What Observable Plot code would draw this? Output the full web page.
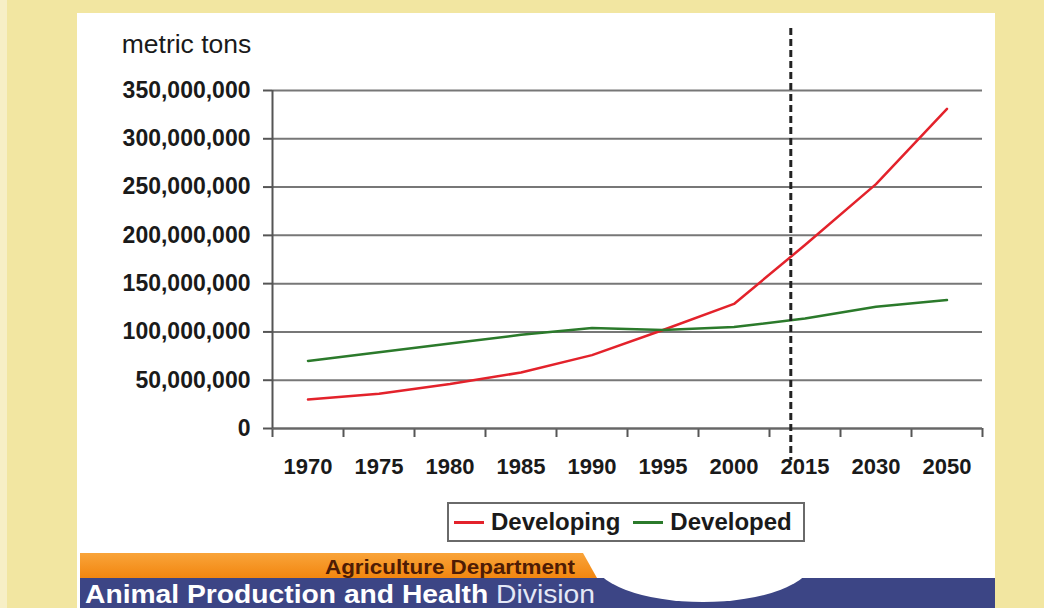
<!DOCTYPE html>
<html>
<head>
<meta charset="utf-8">
<script src="https://cdn.jsdelivr.net/npm/d3@7"></script>
<script src="https://cdn.jsdelivr.net/npm/@observablehq/plot@0.6"></script>
<style>
  html, body { margin: 0; padding: 0; }
  body { width: 1044px; height: 608px; overflow: hidden; background: #f2e6a1; position: relative;
         font-family: "Liberation Sans", Arial, sans-serif; }
  #edge { position: absolute; left: 0; top: 0; width: 7px; height: 608px; background: #f7efc6; }
  #panel { position: absolute; left: 77px; top: 13px; width: 918px; height: 595px; background: #ffffff; }
  #chart { position: absolute; left: 77px; top: 13px; z-index: 2; }
  #legend { position: absolute; left: 447px; top: 502px; width: 354px; height: 36px; z-index: 3;
            border: 2px solid #6a6a6a; background: #fff; display: flex; align-items: center;
            font-weight: bold; font-size: 24px; color: #1a1a1a; box-sizing: content-box; }
  #legend .sw { display: inline-block; width: 30px; height: 3px; margin-left: 5px; margin-right: 7px; }
  #legend .lab { display: inline-block; margin-right: 8px; }
  #banner { position: absolute; left: 0; top: 540px; z-index: 1; }
</style>
</head>
<body>
<div id="edge"></div>
<div id="panel"></div>
<div id="chart"></div>
<div id="legend"></div>
<svg id="banner" width="1044" height="68" viewBox="0 540 1044 68">
  <defs>
    <linearGradient id="og" x1="0" y1="0" x2="0" y2="1">
      <stop offset="0" stop-color="#f9a43a"/>
      <stop offset="1" stop-color="#f2860f"/>
    </linearGradient>
  </defs>
  <rect x="80" y="578" width="915" height="30" fill="#3c4585"/>
  <polygon points="80,553 583,553 597,578 80,578" fill="url(#og)"/>
  <ellipse cx="703" cy="560" rx="110" ry="42" fill="#ffffff"/>
  <text x="325" y="574" font-size="20" font-weight="bold" fill="#4e1c05" textLength="250" lengthAdjust="spacingAndGlyphs"
        font-family="Liberation Sans Narrow, Liberation Sans, Arial, sans-serif">Agriculture Department</text>
  <text x="85" y="603" font-size="25" fill="#ffffff" textLength="510" lengthAdjust="spacingAndGlyphs"
        font-family="Liberation Sans, Arial, sans-serif"><tspan font-weight="bold">Animal Production and Health </tspan><tspan fill="#e4e8f6">Division</tspan></text>
</svg>
<script>
// ---- data ----
const years = ["1970", "1975", "1980", "1985", "1990", "1995", "2000", "2015", "2030", "2050"];
const developing = [30e6, 36e6, 46e6, 58e6, 76e6, 102e6, 129e6, 190e6, 253e6, 331e6];
const developed  = [70e6, 79e6, 88e6, 97e6, 104e6, 102e6, 105e6, 114e6, 126e6, 133e6];
const seriesNames = ["Developing", "Developed"];
const seriesColors = ["#e3222b", "#2b7a2b"];
const yTicks = [0, 50e6, 100e6, 150e6, 200e6, 250e6, 300e6, 350e6];
const yLabel = "metric tons";
const projectionStart = 6.8; // position of dashed divider, in category index units

const seriesValues = [developing, developed];
const rows = seriesNames.flatMap((s, k) => years.map((yr, i) => ({series: s, i, year: yr, value: seriesValues[k][i]})));
const centers = d3.range(years.length);
const boundaries = d3.range(years.length + 1).map(i => i - 0.5);

const chart = Plot.plot({
  width: 918,
  height: 482,
  marginLeft: 195,
  marginRight: 13,
  marginTop: 77,
  marginBottom: 67,
  style: {fontFamily: "'Liberation Sans', Arial, sans-serif", background: "transparent", color: "#1a1a1a", overflow: "visible"},
  x: {domain: [-0.5, years.length - 0.5], axis: null},
  y: {domain: [0, 350e6], axis: null},
  color: {domain: seriesNames, range: seriesColors},
  marks: [
    Plot.gridY(yTicks, {stroke: "#777", strokeOpacity: 1, strokeWidth: 2}),
    Plot.axisY({ticks: yTicks, tickFormat: d3.format(","), tickSize: 9, tickPadding: 13, fontSize: 23, fontWeight: "bold",
                stroke: "#555", strokeWidth: 2, fill: "#1a1a1a", label: null}),
    Plot.axisX({ticks: boundaries, tickSize: 9, tickFormat: () => "", stroke: "#555", strokeWidth: 2, label: null}),
    Plot.axisX({ticks: centers, tickFormat: i => years[i], tickSize: 0, tickPadding: 30, fontSize: 22, fontWeight: "bold",
                fill: "#1a1a1a", label: null}),
    Plot.ruleY([0], {stroke: "#666", strokeWidth: 2}),
    Plot.ruleX([-0.5], {stroke: "#555", strokeWidth: 2}),
    Plot.line(rows, {x: "i", y: "value", stroke: "series", strokeWidth: 2.5}),
    Plot.ruleX([projectionStart], {stroke: "#222", strokeWidth: 3, strokeDasharray: "7,4", insetTop: -62, insetBottom: -32}),
    Plot.text([yLabel], {frameAnchor: "top-left", dx: -86, dy: -46, fontSize: 26.5, textAnchor: "middle", lineAnchor: "middle", fill: "#1a1a1a"})
  ]
});
document.getElementById("chart").appendChild(chart);

// legend
const legend = d3.select("#legend");
seriesNames.forEach((s, k) => {
  legend.append("span").attr("class", "sw").style("background", seriesColors[k]);
  legend.append("span").attr("class", "lab").text(s);
});
</script>
</body>
</html>
